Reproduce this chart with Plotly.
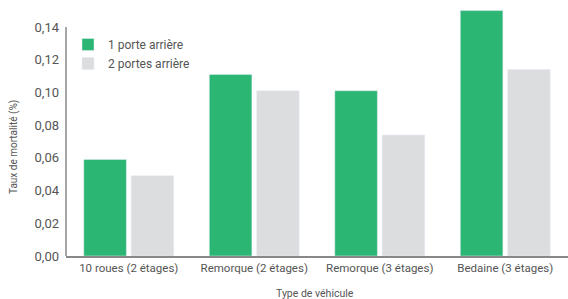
import plotly.graph_objects as go

categories = ["10 roues (2 étages)", "Remorque (2 étages)", "Remorque (3 étages)", "Bedaine (3 étages)"]
series_1 = [0.059, 0.111, 0.101, 0.150]
series_2 = [0.049, 0.101, 0.074, 0.114]
tick_vals = [0.00, 0.02, 0.04, 0.06, 0.08, 0.10, 0.12, 0.14]

GREEN = "#2bb673"
GRAY = "#dcdddf"
TXT = "#555555"
FONT = "Roboto"

fig = go.Figure()
fig.add_trace(go.Bar(x=categories, y=series_1, name="1 porte arrière", marker_color=GREEN))
fig.add_trace(go.Bar(x=categories, y=series_2, name="2 portes arrière", marker_color=GRAY))

W, H = 568, 299
L, R, T, B = 66, 0, 3, 43
pw, ph = W - L - R, H - T - B

fig.update_layout(
    width=W, height=H,
    margin=dict(l=L, r=R, t=T, b=B, autoexpand=False),
    plot_bgcolor="white", paper_bgcolor="white",
    separators=", ",
    barmode="group", bargap=0.246, bargroupgap=0.1,
    font=dict(family=FONT, color=TXT, size=11),
    legend=dict(x=(68 - L) / pw, y=(256 - 30) / ph, xanchor="left", yanchor="top",
                font=dict(size=12, color=TXT), bgcolor="rgba(0,0,0,0)",
                itemwidth=30, tracegroupgap=0),
    xaxis=dict(showline=True, linecolor="#888888", linewidth=1.5, showgrid=False,
               ticks="", tickfont=dict(size=11.5, color=TXT), range=[-0.5, 3.5]),
    yaxis=dict(range=[0, 253 / 1636], tickvals=tick_vals, tickformat=".2f",
               showgrid=False, showline=False, zeroline=False, ticks="",
               tickfont=dict(size=13, color=TXT), ticklabelstandoff=6),
    annotations=[
        dict(text="Taux de mortalité (%)", xref="paper", yref="paper",
             x=(14 - L) / pw, y=(256 - 147) / ph, textangle=-90, showarrow=False,
             xanchor="center", yanchor="middle", font=dict(size=10, color=TXT)),
        dict(text="Type de véhicule", xref="paper", yref="paper",
             x=(315 - L) / pw, y=(256 - 293) / ph, showarrow=False,
             xanchor="center", yanchor="middle", font=dict(size=10.5, color=TXT)),
    ],
    shapes=[dict(type="line", xref="paper", yref="y", x0=0, x1=0, y0=0, y1=0.14,
                 line=dict(color="#888888", width=1.5))],
)

fig.write_html("out.html", config={"displayModeBar": False},
               post_script="document.body.style.margin='0';document.body.style.overflow='hidden';")
